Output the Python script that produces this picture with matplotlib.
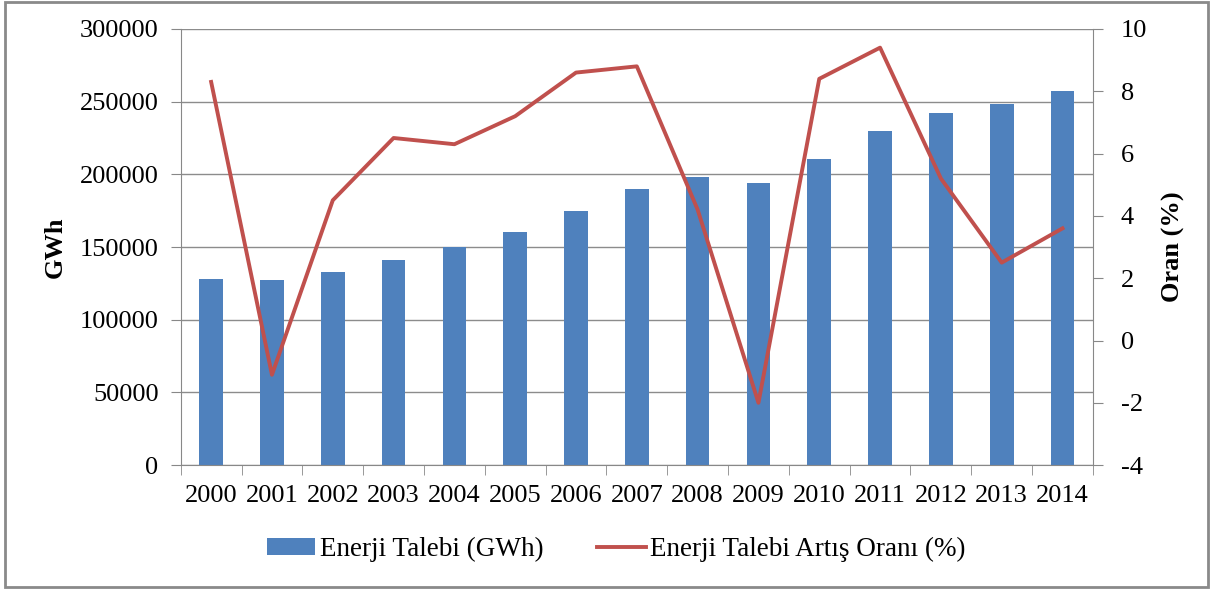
import matplotlib.pyplot as plt
from matplotlib.patches import Rectangle

years = ['2000', '2001', '2002', '2003', '2004', '2005', '2006', '2007',
         '2008', '2009', '2010', '2011', '2012', '2013', '2014']
talep = [128000, 127000, 132500, 141000, 150000, 160500, 174500, 190000,
         198500, 194000, 210500, 230000, 242500, 248500, 257500]
artis = [8.3, -1.1, 4.5, 6.5, 6.3, 7.2, 8.6, 8.8,
         4.2, -2.0, 8.4, 9.4, 5.2, 2.5, 3.6]

plt.rcParams['font.family'] = ['Liberation Serif', 'DejaVu Serif']
plt.rcParams['font.size'] = 19
plt.rcParams['axes.unicode_minus'] = False

fig = plt.figure(figsize=(12.13, 5.91), dpi=100)
ax = fig.add_axes([0.149, 0.213, 0.752, 0.738])
x = list(range(len(years)))

bars = ax.bar(x, talep, width=0.39, color='#4F81BD', zorder=2,
              label='Enerji Talebi (GWh)')
ax.set_ylim(0, 300000)
ax.set_yticks(range(0, 300001, 50000))
ax.set_xlim(-0.5, len(years) - 0.5)
ax.set_xticks(x)
ax.set_xticklabels(years)
ax.tick_params(axis='x', length=0, pad=14)
ax.set_xticks([i - 0.5 for i in range(len(years) + 1)], minor=True)
ax.tick_params(axis='x', which='minor', length=7, color='#888888')
ax.tick_params(axis='y', length=7, color='#888888', pad=9)
ax.grid(axis='y', color='#8c8c8c', linewidth=1, zorder=0)
ax.set_axisbelow(True)
for s in ['top', 'right']:
    ax.spines[s].set_visible(False)
for s in ['left', 'bottom']:
    ax.spines[s].set_color('#888888')
ax.set_ylabel('GWh', fontweight='bold', labelpad=9)

ax2 = ax.twinx()
line, = ax2.plot(x, artis, color='#C0504D', linewidth=2.8, zorder=3,
                 label='Enerji Talebi Artış Oranı (%)')
ax2.set_ylim(-4, 10)
ax2.set_yticks(range(-4, 11, 2))
ax2.tick_params(axis='y', length=7, color='#888888', pad=13)
for s in ['top', 'left', 'bottom']:
    ax2.spines[s].set_visible(False)
ax2.spines['right'].set_color('#888888')
ax2.set_ylabel('Oran (%)', fontweight='bold', labelpad=11)

fig.legend([bars, line], ['Enerji Talebi (GWh)', 'Enerji Talebi Artış Oranı (%)'],
           loc='center', bbox_to_anchor=(0.508, 0.07), ncol=2, frameon=False,
           fontsize=19.5, handlelength=1.8, handleheight=0.6, handletextpad=0.15,
           columnspacing=2.0)

fig.patches.append(Rectangle((0.004, 0.006), 0.992, 0.99, transform=fig.transFigure,
                             fill=False, edgecolor='#8a8a8a', linewidth=2))

fig.savefig('out.png', dpi=100)
